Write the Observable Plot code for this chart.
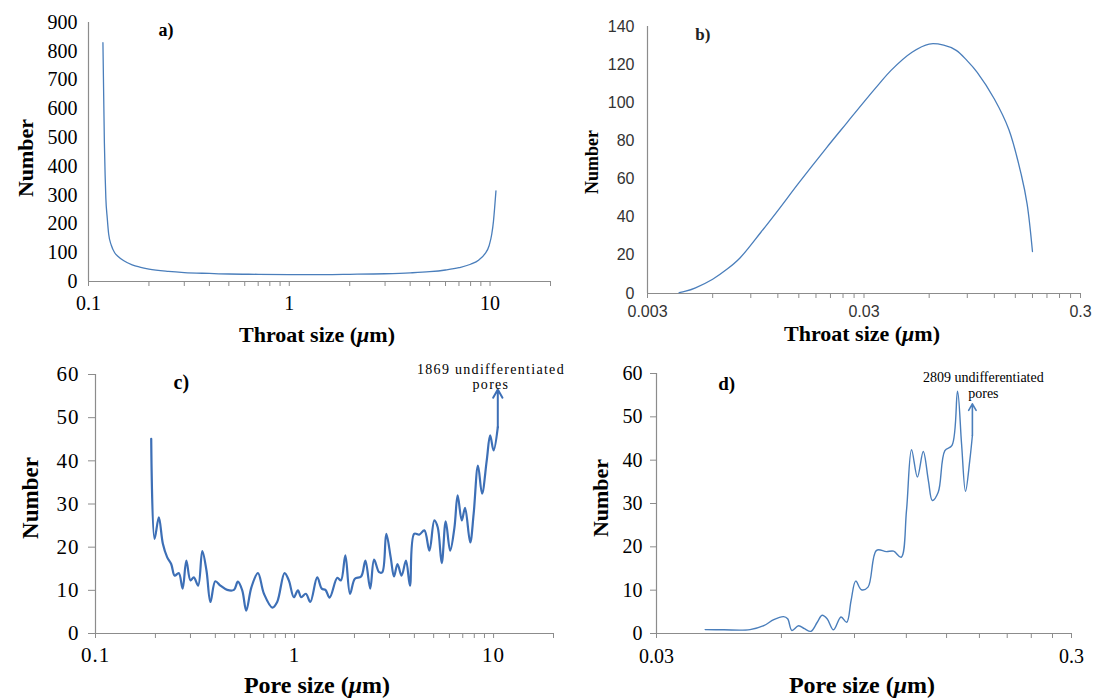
<!DOCTYPE html>
<html><head><meta charset="utf-8">
<script src="https://cdn.jsdelivr.net/npm/d3@7"></script>
<script src="https://cdn.jsdelivr.net/npm/@observablehq/plot@0.6"></script>
<style>
body{margin:0;background:#fff;}
#wrap{position:relative;width:1097px;height:699px;overflow:hidden;background:#fff;}
.panel{position:absolute;}
#pa text, #pc text, #pd text{font-family:"Liberation Serif",serif !important;}
#pb text{font-family:"Liberation Sans",sans-serif !important;}
#pb text.lab{font-family:"Liberation Serif",serif !important;}
.xt{position:absolute;font-family:"Liberation Serif",serif;font-weight:bold;color:#000;white-space:nowrap;transform:translate(-50%,-50%);line-height:1;}
.yt{position:absolute;font-family:"Liberation Serif",serif;font-weight:bold;color:#000;white-space:nowrap;transform:translate(-50%,-50%) rotate(-90deg);line-height:1;}
</style></head><body><div id="wrap"></div>
<script>
// ---------- data ----------
const throatA_x = [0.118,0.119,0.12,0.121,0.122,0.124,0.126,0.13,0.135,0.14,0.15,0.165,0.18,0.2,0.25,0.3,0.4,0.5,0.7,1,1.5,2,3,4,5,6,7,8,8.8,9.4,9.9,10.2,10.4,10.55,10.7];
const throatA_y = [830,650,480,370,290,220,165,125,100,88,72,58,50,43,35,31,28,26,25,24,24,25,27,30,34,40,48,60,75,95,125,165,210,260,315];

const throatB_x = [0.0042,0.0045,0.005,0.006,0.007,0.008,0.01,0.012,0.015,0.02,0.025,0.03,0.035,0.04,0.05,0.06,0.07,0.08,0.09,0.1,0.12,0.14,0.16,0.17,0.18];
const throatB_y = [0.5,1.2,3,7.5,12.8,18.5,32,43.5,58,76,89.5,100.5,109.5,117,126.5,130.8,130.2,127.5,122,116,102,86,62,47,22];

const poreC_x = [0.1905,0.198,0.208,0.218,0.229,0.240,0.250,0.262,0.274,0.286,0.300,0.312,0.328,0.344,0.361,0.378,0.400,0.424,0.459,0.496,0.519,0.546,0.572,0.607,0.655,0.702,0.774,0.818,0.891,0.936,0.992,1.04,1.08,1.14,1.20,1.30,1.37,1.43,1.50,1.64,1.71,1.80,1.90,2.01,2.16,2.27,2.40,2.51,2.66,2.76,2.89,3.04,3.16,3.29,3.45,3.63,3.80,3.99,4.23,4.49,4.76,5.04,5.24,5.49,5.75,6.05,6.36,6.60,6.92,7.19,7.63,7.94,8.35,8.75,9.24,9.61,10.0,10.5];
const poreC_y = [45.1,21.9,26.9,20.8,17.7,16.1,13.4,14,10.4,16.9,12.3,13,11.1,19.1,14.6,7.3,12.1,11.1,10.1,10.1,12,10,5.3,10.7,14,9.2,6,7.3,14,12.3,8.4,10,8.4,9.2,7.3,13,10.4,10.1,8.3,12.9,12.3,18.1,9.2,12.7,13.2,16.9,10.4,17.1,14.2,14.2,23.1,17.7,13.2,16.1,13.4,16.9,11.1,23.1,22.9,23.9,19.2,26.2,24.6,16.3,26,19.2,24.6,32,26.2,29.1,21.1,27.7,38.9,32.4,40.1,45.9,42.4,47.8];

const poreD_x = [0.0393,0.0436,0.0504,0.0544,0.0575,0.0607,0.0621,0.0636,0.066,0.0682,0.0707,0.0732,0.0752,0.0773,0.0801,0.0835,0.0862,0.0883,0.0906,0.0935,0.097,0.1017,0.1074,0.1118,0.1166,0.1201,0.1235,0.1276,0.1318,0.1356,0.1386,0.1432,0.1486,0.1546,0.1594,0.1630,0.1666,0.1706,0.1731];
const poreD_y = [0.9,0.85,0.9,1.8,3.2,3.9,3.4,0.7,1.8,1.1,0.5,2.6,4.2,3.4,0.85,3.8,2.6,7.6,12.1,10.1,10.7,19.2,18.9,19,17.6,28.4,42.4,36.1,42,35.3,30.7,32.6,42.2,43.4,55.9,43.8,32.8,39.9,45.7];

// ticks
const ticksA = [0.1,0.2,0.3,0.4,0.5,0.6,0.7,0.8,0.9,1,2,3,4,5,6,7,8,9,10,20];
const majorsA = [0.1,1,10], labelsA = ["0.1","1","10"];
const ticksB = [0.003,0.006,0.009,0.012,0.015,0.018,0.021,0.024,0.027,0.03,0.06,0.09,0.12,0.15,0.18,0.21,0.24,0.27,0.3];
const majorsB = [0.003,0.03,0.3], labelsB = ["0.003","0.03","0.3"];
const ticksC = ticksA, majorsC = majorsA, labelsC = labelsA;
const ticksD = [0.03,0.06,0.09,0.12,0.15,0.18,0.21,0.24,0.27,0.3];
const majorsD = [0.03,0.3], labelsD = ["0.03","0.3"];
const yTicksA = [0,100,200,300,400,500,600,700,800,900];
const yTicksB = [0,20,40,60,80,100,120,140];
const yTicksCD = [0,10,20,30,40,50,60];

const notesC = ["1869 undifferentiated", "pores"];
const notesD = ["2809 undifferentiated", "pores"];

// ---------- helpers ----------
const gray = "#8c8c8c";
const zip = (xs, ys) => xs.map((x, i) => ({x, y: ys[i]}));
const fmt = (majors, labels) => v => {
  const i = majors.findIndex(m => Math.abs(Math.log10(v) - Math.log10(m)) < 1e-6);
  return i >= 0 ? labels[i] : "";
};
const wrap = document.getElementById("wrap");
function place(svg, id, left, top, spacing) {
  svg.classList.add("panel");
  svg.id = id;
  svg.style.left = left + "px"; svg.style.top = top + "px";
  if (spacing) for (const [sel, ls] of spacing) svg.querySelectorAll(sel).forEach(n => n.style.letterSpacing = ls);
  wrap.appendChild(svg);
}
function addText(cls, html, x, y, size) {
  const d = document.createElement("div");
  d.className = cls; d.innerHTML = html;
  d.style.left = x + "px"; d.style.top = y + "px"; d.style.fontSize = size + "px";
  wrap.appendChild(d);
}
const serif = "Liberation Serif";
const sans = "Liberation Sans";

// ---------- panel a ----------
place(Plot.plot({
  width: 560, height: 350,
  marginLeft: 88, marginRight: 10, marginTop: 22, marginBottom: 69,
  x: {type: "log", domain: [0.1, 20]},
  y: {domain: [0, 900]},
  style: {fontFamily: serif, fontSize: "20px", color: "#000", background: "transparent", overflow: "visible"},
  marks: [
    Plot.ruleX([0.1], {stroke: gray, strokeWidth: 1.2}),
    Plot.ruleY([0], {stroke: gray, strokeWidth: 1.2}),
    Plot.axisX({ticks: ticksA, tickFormat: fmt(majorsA, labelsA), tickSize: 5, tickPadding: 9, stroke: gray, label: null, fontSize: 20}),
    Plot.axisY({ticks: yTicksA, tickSize: 0, tickPadding: 11, label: null, fontSize: 20}),
    Plot.line(zip(throatA_x, throatA_y), {x: "x", y: "y", stroke: "#4a7ebb", strokeWidth: 1.3, curve: "monotone-x"}),
    Plot.text(["a)"], {x: 0.243, y: 872, text: d => d, fontWeight: "bold", fontSize: 18})
  ]
}), "pa", 0, 0);

// ---------- panel b ----------
place(Plot.plot({
  width: 537, height: 350,
  marginLeft: 87, marginRight: 17, marginTop: 26, marginBottom: 57,
  x: {type: "log", domain: [0.003, 0.3]},
  y: {domain: [0, 140]},
  style: {fontFamily: sans, fontSize: "16px", color: "#222", background: "transparent", overflow: "visible"},
  marks: [
    Plot.ruleX([0.003], {stroke: gray, strokeWidth: 1.2}),
    Plot.ruleY([0], {stroke: gray, strokeWidth: 1.2}),
    Plot.axisX({ticks: ticksB, tickFormat: fmt(majorsB, labelsB), tickSize: 5, tickPadding: 7, stroke: gray, label: null, fontSize: 16, fill: "#333"}),
    Plot.axisY({ticks: yTicksB, tickSize: 0, tickPadding: 13, label: null, fontSize: 16, fill: "#333"}),
    Plot.line(zip(throatB_x, throatB_y), {x: "x", y: "y", stroke: "#4a7ebb", strokeWidth: 1.3, curve: "catmull-rom"}),
    Plot.text(["b)"], {x: 0.0054, y: 136, text: d => d, fontWeight: "bold", fontSize: 17})
  ]
}), "pb", 560, 0);
document.querySelectorAll("#pb text").forEach(n => { if (n.textContent === "b)") n.classList.add("lab"); });

// ---------- panel c ----------
place(Plot.plot({
  width: 560, height: 349,
  marginLeft: 95, marginRight: 7, marginTop: 24, marginBottom: 66,
  x: {type: "log", domain: [0.1, 20]},
  y: {domain: [0, 60]},
  style: {fontFamily: serif, fontSize: "21px", color: "#000", background: "transparent", overflow: "visible"},
  marks: [
    Plot.ruleX([0.1], {stroke: gray, strokeWidth: 1.2}),
    Plot.ruleY([0], {stroke: gray, strokeWidth: 1.2}),
    Plot.axisX({ticks: ticksC, tickFormat: fmt(majorsC, labelsC), tickSize: 5, tickPadding: 9, stroke: gray, label: null, fontSize: 21, className: "tl"}),
    Plot.axisY({ticks: yTicksCD, tickSize: 7, tickPadding: 9, stroke: gray, label: null, fontSize: 21, className: "tl"}),
    Plot.line(zip(poreC_x, poreC_y), {x: "x", y: "y", stroke: "#3d6fb6", strokeWidth: 2.2, curve: "catmull-rom"}),
    Plot.arrow([0], {x1: () => poreC_x.at(-1), x2: () => poreC_x.at(-1), y1: () => poreC_y.at(-1), y2: 56.5, stroke: "#3d6fb6", strokeWidth: 2, headLength: 7}),
    Plot.text(["c)"], {x: 0.27, y: 58.1, text: d => d, fontWeight: "bold", fontSize: 20}),
    Plot.text([notesC[0]], {x: 9.7, y: 61.1, text: d => d, fontSize: 14, className: "note"}),
    Plot.text([notesC[1]], {x: 9.7, y: 57.7, text: d => d, fontSize: 14, className: "note"})
  ]
}), "pc", 0, 350, [[".note text", "1.3px"], [".tl text", "1px"]]);

// ---------- panel d ----------
place(Plot.plot({
  width: 537, height: 349,
  marginLeft: 96, marginRight: 26, marginTop: 23, marginBottom: 66,
  x: {type: "log", domain: [0.03, 0.3]},
  y: {domain: [0, 60]},
  style: {fontFamily: serif, fontSize: "20px", color: "#000", background: "transparent", overflow: "visible"},
  marks: [
    Plot.ruleX([0.03], {stroke: gray, strokeWidth: 1.2}),
    Plot.ruleY([0], {stroke: gray, strokeWidth: 1.2}),
    Plot.axisX({ticks: ticksD, tickFormat: fmt(majorsD, labelsD), tickSize: 5, tickPadding: 10, stroke: gray, label: null, fontSize: 20}),
    Plot.axisY({ticks: yTicksCD, tickSize: 6, tickPadding: 8, stroke: gray, label: null, fontSize: 20}),
    Plot.line(zip(poreD_x, poreD_y), {x: "x", y: "y", stroke: "#4a7ebb", strokeWidth: 1.4, curve: "catmull-rom"}),
    Plot.arrow([0], {x1: () => poreD_x.at(-1), x2: () => poreD_x.at(-1), y1: () => poreD_y.at(-1), y2: 53, stroke: "#4a7ebb", strokeWidth: 1.6, headLength: 7}),
    Plot.text(["d)"], {x: 0.0443, y: 57.7, text: d => d, fontWeight: "bold", fontSize: 19}),
    Plot.text([notesD[0]], {x: 0.184, y: 59.1, text: d => d, fontSize: 14}),
    Plot.text([notesD[1]], {x: 0.184, y: 55.3, text: d => d, fontSize: 14})
  ]
}), "pd", 560, 350);

// ---------- axis titles ----------
addText("xt", "Throat size (<i>μ</i>m)", 317, 335, 22);
addText("xt", "Throat size (<i>μ</i>m)", 862, 334, 22);
addText("xt", "Pore size (<i>μ</i>m)", 317, 685, 24);
addText("xt", "Pore size (<i>μ</i>m)", 862, 685, 24);
addText("yt", "Number", 26, 158, 22);
addText("yt", "Number", 592, 162, 18);
addText("yt", "Number", 30, 498, 23);
addText("yt", "Number", 601, 498, 22);
</script></body></html>
